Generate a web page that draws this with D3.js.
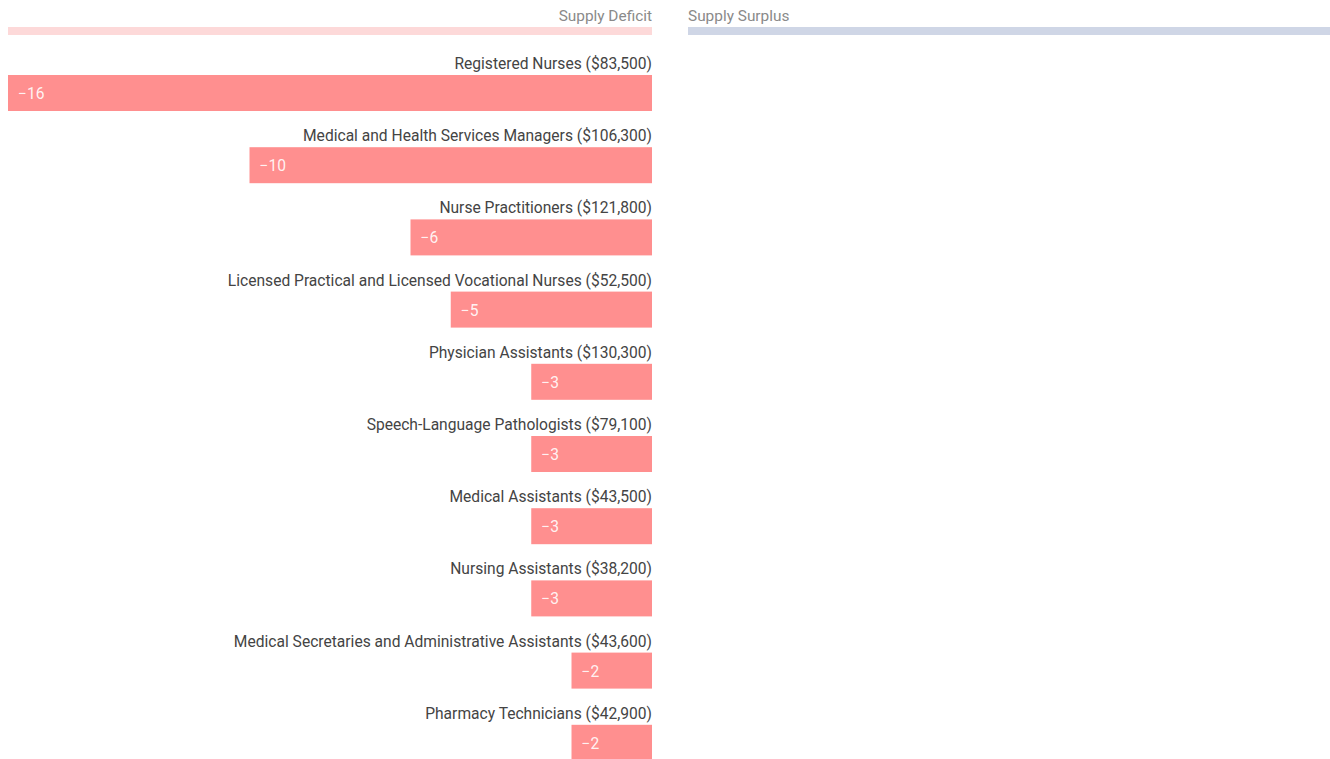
<!DOCTYPE html>
<html>
<head>
<meta charset="utf-8">
<script src="https://cdn.jsdelivr.net/npm/d3@7"></script>
<style>
  body { margin: 0; background: #fff; }
  svg { display: block; font-family: Roboto, "Noto Sans", sans-serif; }
  .header { font-size: 15.4px; fill: #8a8a8a; }
  .label { font-size: 15.6px; fill: #444; }
  .value { font-size: 15.6px; fill: #fff; fill-opacity: 0.9; }
</style>
</head>
<body>
<div id="chart"></div>
<script>
const occupations = [
  "Registered Nurses",
  "Medical and Health Services Managers",
  "Nurse Practitioners",
  "Licensed Practical and Licensed Vocational Nurses",
  "Physician Assistants",
  "Speech-Language Pathologists",
  "Medical Assistants",
  "Nursing Assistants",
  "Medical Secretaries and Administrative Assistants",
  "Pharmacy Technicians"
];
const wages = ["$83,500", "$106,300", "$121,800", "$52,500", "$130,300", "$79,100", "$43,500", "$38,200", "$43,600", "$42,900"];
const gap = [-16, -10, -6, -5, -3, -3, -3, -3, -2, -2];
const sides = ["Supply Deficit", "Supply Surplus"];

const width = 1330, height = 759;

const svg = d3.select("#chart")
  .append("svg")
  .attr("width", width)
  .attr("height", height);

// deficit side grows leftwards from the centre gap, surplus side rightwards
const xDeficit = d3.scaleLinear().domain([-16, 0]).range([8, 652]);
const xSurplus = d3.scaleLinear().domain([0, 16]).range([688, 1330]);

const y = d3.scaleBand()
  .domain(occupations)
  .range([54, 54 + occupations.length * 72.2]);

// header labels + coloured strips
svg.append("text")
  .attr("class", "header")
  .attr("x", xDeficit(0))
  .attr("y", 21)
  .attr("text-anchor", "end")
  .text(sides[0]);
svg.append("rect")
  .attr("x", xDeficit(-16))
  .attr("y", 27)
  .attr("width", xDeficit(0) - xDeficit(-16))
  .attr("height", 8)
  .attr("fill", "#fdd9d9");

svg.append("text")
  .attr("class", "header")
  .attr("x", xSurplus(0))
  .attr("y", 21)
  .attr("text-anchor", "start")
  .text(sides[1]);
svg.append("rect")
  .attr("x", xSurplus(0))
  .attr("y", 27)
  .attr("width", xSurplus(16) - xSurplus(0))
  .attr("height", 8)
  .attr("fill", "#cfd6e6");

const data = occupations.map((name, i) => ({ name, wage: wages[i], value: gap[i] }));

const row = svg.selectAll("g.row")
  .data(data)
  .join("g")
  .attr("class", "row")
  .attr("transform", d => `translate(0, ${y(d.name)})`);

row.append("text")
  .attr("class", "label")
  .attr("x", xDeficit(0))
  .attr("y", 15)
  .attr("text-anchor", "end")
  .text(d => `${d.name} (${d.wage})`);

row.append("rect")
  .attr("x", d => xDeficit(d.value))
  .attr("y", 21)
  .attr("width", d => xDeficit(0) - xDeficit(d.value))
  .attr("height", 36)
  .attr("fill", "#ff8f8f");

row.append("text")
  .attr("class", "value")
  .attr("x", d => xDeficit(d.value) + 10)
  .attr("y", 45)
  .text(d => d3.format("d")(d.value).replace("-", "\u2212"));
</script>
</body>
</html>
